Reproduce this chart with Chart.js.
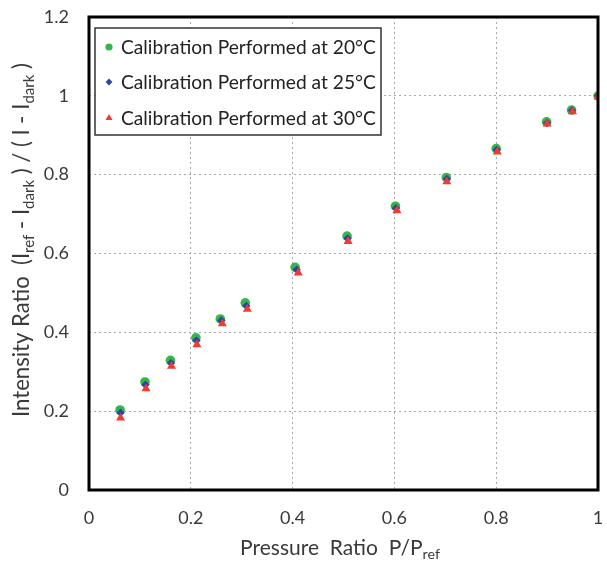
<!DOCTYPE html>
<html>
<head>
<meta charset="utf-8">
<script src="https://cdn.jsdelivr.net/npm/chart.js@4.4.1/dist/chart.umd.min.js"></script>
<style>
    html, body { margin: 0; padding: 0; background: #fff; }
    #wrap { width: 607px; height: 562px; position: relative; }
</style>
</head>
<body>
<div id="wrap"><canvas id="chart"></canvas></div>
<script>
// values
var x20 = [0.061, 0.110, 0.160, 0.210, 0.258, 0.307, 0.405, 0.507, 0.602, 0.702, 0.800, 0.899, 0.948, 1.000];
var y20 = [0.203, 0.274, 0.329, 0.386, 0.434, 0.475, 0.565, 0.644, 0.720, 0.793, 0.866, 0.934, 0.964, 1.000];
var x25 = [0.062, 0.111, 0.161, 0.211, 0.260, 0.309, 0.408, 0.508, 0.603, 0.703, 0.801, 0.900, 0.949, 1.000];
var y25 = [0.196, 0.267, 0.322, 0.379, 0.430, 0.467, 0.559, 0.638, 0.715, 0.789, 0.863, 0.931, 0.963, 1.000];
var x30 = [0.062, 0.112, 0.162, 0.212, 0.262, 0.311, 0.411, 0.509, 0.605, 0.703, 0.802, 0.900, 0.950, 1.000];
var y30 = [0.183, 0.257, 0.314, 0.369, 0.422, 0.459, 0.551, 0.631, 0.709, 0.782, 0.858, 0.929, 0.960, 0.998];
var seriesLabels = ['Calibration Performed at 20°C', 'Calibration Performed at 25°C', 'Calibration Performed at 30°C'];
var xTicks = [0, 0.2, 0.4, 0.6, 0.8, 1];
var yTicks = [0, 0.2, 0.4, 0.6, 0.8, 1, 1.2];

var FONT = 'Lato, "Open Sans", sans-serif';
var TEXT = '#3a3a3a';
var legendRadius = [3.6, 3.4, 4];

function pts(xs, ys) {
    return xs.map(function (v, i) { return { x: v, y: ys[i] }; });
}

// text with subscripts, centred on (cx, cy), sized to fill targetW
function drawRich(ctx, parts, cx, cy, targetW) {
    var measure = function (size) {
        var w = 0;
        parts.forEach(function (p) {
            ctx.font = (p.sub ? size * 0.68 : size) + 'px ' + FONT;
            p.w = ctx.measureText(p.t).width;
            w += p.w;
        });
        return w;
    };
    var size = 19;
    size = size * targetW / measure(size);
    var w = measure(size);
    var x = cx - w / 2;
    ctx.textAlign = 'left';
    ctx.textBaseline = 'middle';
    parts.forEach(function (p) {
        ctx.font = (p.sub ? size * 0.68 : size) + 'px ' + FONT;
        ctx.fillText(p.t, x, p.sub ? cy + size * 0.32 : cy);
        x += p.w;
    });
}

var framePlugin = {
    id: 'frame',
    afterDraw: function (chart) {
        var ctx = chart.ctx;
        var a = chart.chartArea;
        ctx.save();
        // heavy black frame
        ctx.strokeStyle = '#000';
        ctx.lineWidth = 3;
        ctx.strokeRect(a.left, a.top, a.right - a.left, a.bottom - a.top);

        // axis titles
        ctx.fillStyle = TEXT;
        drawRich(ctx, [
            { t: 'Pressure  Ratio  P/P' },
            { t: 'ref', sub: true }
        ], 340, 548, 200);

        ctx.translate(22, 240);
        ctx.rotate(-Math.PI / 2);
        drawRich(ctx, [
            { t: 'Intensity Ratio  (I' },
            { t: 'ref', sub: true },
            { t: ' - I' },
            { t: 'dark', sub: true },
            { t: ' ) / ( I - I' },
            { t: 'dark', sub: true },
            { t: ' )' }
        ], 0, 0, 354);
        ctx.restore();

        // legend box inside the plot
        ctx.save();
        ctx.fillStyle = '#fff';
        ctx.fillRect(95, 28, 286, 107);
        ctx.strokeStyle = '#333';
        ctx.lineWidth = 1.5;
        ctx.strokeRect(95, 28, 286, 107);
        var rows = [47, 82, 118];
        chart.data.datasets.forEach(function (ds, i) {
            ctx.fillStyle = ds.backgroundColor;
            ctx.strokeStyle = ds.backgroundColor;
            Chart.helpers.drawPoint(ctx, {
                pointStyle: ds.pointStyle,
                rotation: 0,
                radius: legendRadius[i],
                borderWidth: 0
            }, 109, rows[i]);
            ctx.fillStyle = '#222';
            ctx.textAlign = 'left';
            ctx.textBaseline = 'middle';
            var fs = 18;
            ctx.font = fs + 'px ' + FONT;
            fs = fs * 255 / ctx.measureText(ds.label).width;
            ctx.font = fs + 'px ' + FONT;
            ctx.fillText(ds.label, 121, rows[i] + 1);
        });
        ctx.restore();
    }
};

var ctx = document.getElementById('chart');
var myChart = new Chart(ctx, {
    type: 'scatter',
    data: {
        datasets: [{
            label: seriesLabels[0],
            data: pts(x20, y20),
            pointStyle: 'circle',
            pointRadius: 4.8,
            backgroundColor: '#36b54a',
            borderColor: '#36b54a',
            borderWidth: 0,
            order: 2
        }, {
            label: seriesLabels[1],
            data: pts(x25, y25),
            pointStyle: 'rectRot',
            pointRadius: 4.2,
            backgroundColor: '#2a45a8',
            borderColor: '#2a45a8',
            borderWidth: 0,
            order: 1
        }, {
            label: seriesLabels[2],
            data: pts(x30, y30),
            pointStyle: 'triangle',
            pointRadius: 5.2,
            backgroundColor: '#f03a32',
            borderColor: '#f03a32',
            borderWidth: 0,
            order: 0
        }]
    },
    options: {
        responsive: true,
        maintainAspectRatio: false,
        animation: false,
        layout: { padding: { left: 0, right: 9, top: 17, bottom: 0 } },
        plugins: {
            legend: { display: false },
            tooltip: { enabled: false }
        },
        scales: {
            x: {
                type: 'linear',
                min: 0,
                max: 1,
                afterFit: function (scale) {
                    scale.height = 72;
                    scale.paddingLeft = 0;
                    scale.paddingRight = 0;
                },
                afterBuildTicks: function (scale) {
                    scale.ticks = xTicks.map(function (v) { return { value: v }; });
                },
                ticks: {
                    color: TEXT,
                    font: { family: FONT, size: 18 },
                    padding: 17,
                    maxRotation: 0,
                    callback: function (v) { return String(v); }
                },
                grid: {
                    drawTicks: false,
                    color: '#a8a8a8',
                    lineWidth: 1
                },
                border: { display: false, dash: [2, 3] }
            },
            y: {
                type: 'linear',
                min: 0,
                max: 1.2,
                afterFit: function (scale) {
                    scale.width = 89;
                    scale.paddingTop = 0;
                    scale.paddingBottom = 0;
                },
                afterBuildTicks: function (scale) {
                    scale.ticks = yTicks.map(function (v) { return { value: v }; });
                },
                ticks: {
                    color: TEXT,
                    font: { family: FONT, size: 18 },
                    padding: 20,
                    callback: function (v) { return String(Math.round(v * 10) / 10); }
                },
                grid: {
                    drawTicks: false,
                    color: '#a8a8a8',
                    lineWidth: 1
                },
                border: { display: false, dash: [2, 3] }
            }
        }
    },
    plugins: [framePlugin]
});
</script>
</body>
</html>
